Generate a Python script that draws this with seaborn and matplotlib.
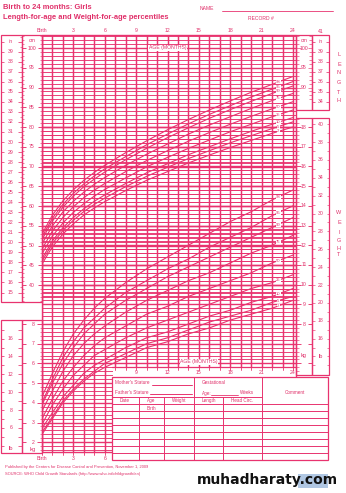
import numpy as np
import pandas as pd
import matplotlib
matplotlib.use('Agg')
import matplotlib.pyplot as plt
import seaborn as sns
from matplotlib.transforms import blended_transform_factory as btf
from matplotlib.patches import Rectangle

sns.set_theme(style='white')
plt.rcParams['font.family'] = ['Liberation Sans', 'DejaVu Sans']

PINK = '#e8336f'
TXT = '#e0306a'

# ---------------- data ----------------
months = [0, 1, 2, 3, 4, 5, 6, 8, 10, 12, 14, 16, 18, 20, 22, 24]
pct_labels = ['2', '5', '10', '25', '50', '75', '90', '95', '98']

length_p2 = [45.3, 49.7, 52.9, 55.5, 57.7, 59.5, 61.1, 63.9, 66.5, 68.7, 70.9, 72.9, 74.8, 76.6, 78.4, 80.0]
length_p5 = [46.0, 50.5, 53.8, 56.4, 58.6, 60.4, 62.0, 64.9, 67.5, 69.8, 72.0, 74.0, 76.0, 77.8, 79.6, 81.3]
length_p10 = [46.7, 51.2, 54.5, 57.1, 59.3, 61.2, 62.8, 65.7, 68.4, 70.7, 73.0, 75.0, 77.0, 78.9, 80.7, 82.4]
length_p25 = [47.9, 52.4, 55.7, 58.4, 60.6, 62.5, 64.2, 67.1, 69.9, 72.3, 74.6, 76.7, 78.8, 80.7, 82.6, 84.3]
length_p50 = [49.1, 53.7, 57.1, 59.8, 62.1, 64.0, 65.7, 68.7, 71.5, 74.0, 76.4, 78.6, 80.7, 82.7, 84.6, 86.4]
length_p75 = [50.4, 55.0, 58.5, 61.2, 63.5, 65.5, 67.2, 70.3, 73.1, 75.7, 78.2, 80.5, 82.6, 84.7, 86.7, 88.5]
length_p90 = [51.5, 56.2, 59.7, 62.5, 64.9, 66.8, 68.6, 71.7, 74.6, 77.3, 79.8, 82.2, 84.4, 86.5, 88.5, 90.4]
length_p95 = [52.2, 56.9, 60.4, 63.2, 65.6, 67.6, 69.4, 72.5, 75.5, 78.2, 80.8, 83.2, 85.4, 87.6, 89.6, 91.5]
length_p98 = [52.9, 57.7, 61.3, 64.1, 66.5, 68.5, 70.3, 73.5, 76.5, 79.3, 81.9, 84.3, 86.6, 88.8, 90.8, 92.8]

weight_p2 = [2.4, 3.2, 4.0, 4.6, 5.1, 5.5, 5.8, 6.3, 6.8, 7.1, 7.5, 7.8, 8.2, 8.5, 8.8, 9.2]
weight_p5 = [2.5, 3.3, 4.1, 4.7, 5.2, 5.6, 6.0, 6.5, 7.0, 7.3, 7.7, 8.1, 8.4, 8.7, 9.1, 9.4]
weight_p10 = [2.7, 3.5, 4.3, 4.9, 5.5, 5.9, 6.2, 6.8, 7.3, 7.6, 8.0, 8.4, 8.7, 9.1, 9.4, 9.8]
weight_p25 = [2.9, 3.9, 4.7, 5.4, 5.9, 6.4, 6.7, 7.3, 7.8, 8.2, 8.6, 9.0, 9.4, 9.8, 10.1, 10.5]
weight_p50 = [3.2, 4.2, 5.1, 5.8, 6.4, 6.9, 7.3, 7.9, 8.5, 8.9, 9.4, 9.8, 10.2, 10.6, 11.1, 11.5]
weight_p75 = [3.6, 4.6, 5.6, 6.4, 7.0, 7.5, 7.9, 8.6, 9.2, 9.7, 10.2, 10.6, 11.1, 11.6, 12.0, 12.5]
weight_p90 = [3.9, 5.0, 6.0, 6.8, 7.5, 8.0, 8.5, 9.2, 9.8, 10.4, 10.9, 11.4, 11.9, 12.4, 12.9, 13.4]
weight_p95 = [4.0, 5.2, 6.3, 7.1, 7.8, 8.3, 8.8, 9.6, 10.2, 10.8, 11.3, 11.9, 12.4, 12.9, 13.5, 14.0]
weight_p98 = [4.3, 5.5, 6.6, 7.5, 8.2, 8.8, 9.3, 10.1, 10.8, 11.4, 12.0, 12.6, 13.2, 13.7, 14.3, 14.8]

length_series = [length_p2, length_p5, length_p10, length_p25, length_p50,
                 length_p75, length_p90, length_p95, length_p98]
weight_series = [weight_p2, weight_p5, weight_p10, weight_p25, weight_p50,
                 weight_p75, weight_p90, weight_p95, weight_p98]

top_month_labels = ['Birth', '3', '6', '9', '12', '15', '18', '21', '24']
top_month_ticks = [0, 3, 6, 9, 12, 15, 18, 21, 24]

len_df = pd.DataFrame([(m, v, p) for p, s in zip(pct_labels, length_series)
                       for m, v in zip(months, s)], columns=['month', 'cm', 'pct'])
wt_df = pd.DataFrame([(m, v, p) for p, s in zip(pct_labels, weight_series)
                      for m, v in zip(months, s)], columns=['month', 'kg', 'pct'])

# ---------------- figure geometry ----------------
W, H = 346, 493
fig = plt.figure(figsize=(W / 100, H / 100), dpi=100)
fig.patch.set_facecolor('white')

GX0, GX1, GY0, GY1 = 42, 296, 35, 452
PX_MONTH = 10.46


def cm_at(y):
    return 100 - (y - 48) / 3.95


def kg_at(y):
    return 8 - (y - 324) / 19.7


XMAX = (GX1 - GX0) / PX_MONTH
ax = fig.add_axes([GX0 / W, 1 - GY1 / H, (GX1 - GX0) / W, (GY1 - GY0) / H])
ax.set_xlim(0, XMAX)
ax.set_ylim(cm_at(GY1), cm_at(GY0))
ax2 = ax.twinx()
ax2.set_ylim(kg_at(GY1), kg_at(GY0))
for a in (ax, ax2):
    a.axis('off')
    a.set_autoscale_on(False)

# grid
cm_lines = np.arange(37, 104)
ax.hlines([c for c in cm_lines if c % 5], 0, XMAX, color=PINK, lw=0.65)
ax.hlines([c for c in cm_lines if c % 5 == 0], 0, XMAX, color=PINK, lw=1.0)
kg_lines = np.round(np.arange(1.6, 18.01, 0.2), 1)
ax2.hlines([k for k in kg_lines if abs(k - round(k)) > 0.01], 0, XMAX, color=PINK, lw=0.65)
ax2.hlines([k for k in kg_lines if abs(k - round(k)) < 0.01], 0, XMAX, color=PINK, lw=1.0)
for m in range(0, 25):
    ax.axvline(m, color=PINK, lw=1.05)

pal = {p: PINK for p in pct_labels}
sns.lineplot(data=len_df, x='month', y='cm', hue='pct', palette=pal, ax=ax,
             legend=False, lw=0.8, estimator=None)
sns.lineplot(data=wt_df, x='month', y='kg', hue='pct', palette=pal, ax=ax2,
             legend=False, lw=0.8, estimator=None)
ax.axis('off'); ax2.axis('off')

# ---------------- overlay in pixel space ----------------
ov = fig.add_axes([0, 0, 1, 1])
ov.set_xlim(0, W)
ov.set_ylim(H, 0)
ov.axis('off')
ov.set_autoscale_on(False)
ov.set_zorder(10)
ov.patch.set_visible(False)

T_cm = btf(ov.transData, ax.transData)
T_kg = btf(ov.transData, ax2.transData)
T_mo = btf(ax.transData, ov.transData)

FS = 3.7


def seg(x0, x1, y, T, lw=0.55):
    ov.plot([x0, x1], [y, y], transform=T, color=PINK, lw=lw, solid_capstyle='butt')


def txt(x, y, s, T=None, fs=FS, ha='center', va='center', **kw):
    ov.text(x, y, s, transform=T if T is not None else ov.transData, fontsize=fs,
            color=TXT, ha=ha, va=va, **kw)


def rect(x, y, w, h, lw=0.9, fc='none', z=2):
    ov.add_patch(Rectangle((x, y), w, h, fc=fc, ec=PINK, lw=lw, zorder=z))


# white area under the table
ov.add_patch(Rectangle((112.5, 367), GX1 - 112.5, 100, fc='white', ec='none', zorder=1))

# main frame
rect(GX0, GY0, GX1 - GX0, GY1 - GY0, lw=1.0)
ov.plot([112, GX1], [367, 367], color=PINK, lw=0.9, zorder=2)

# left length columns
rect(0.5, 35, 21.5, 267)
rect(22, 35, 20, 267)
for i in range(15, 41):
    seg(0.5, 3.5, i * 2.54, T_cm)
    seg(18, 22, i * 2.54, T_cm)
    seg(19.5, 22, (i + 0.5) * 2.54, T_cm, lw=0.45)
    if i < 40:
        txt(11, i * 2.54, str(i), T_cm)
txt(11, 40 * 2.54, 'in', T_cm)
for c in range(36, 104):
    if c % 5 == 0:
        seg(22, 25.5, c, T_cm, lw=0.65)
        seg(38, 42, c, T_cm, lw=0.65)
    else:
        seg(22, 24, c, T_cm, lw=0.45)
        seg(39.5, 42, c, T_cm, lw=0.45)
for c in range(40, 101, 5):
    txt(32, c, str(c), T_cm)
txt(32, 102, 'cm', T_cm)

# left weight columns
rect(0.5, 320, 21.5, 133)
rect(22, 320, 20, 133)
for lb in range(4, 18):
    seg(0.5, 3.5, lb * 0.4536, T_kg)
    seg(18, 22, lb * 0.4536, T_kg)
for lb in range(6, 17, 2):
    txt(11, lb * 0.4536, str(lb), T_kg)
for k in kg_lines:
    if k > 8.2:
        continue
    if abs(k - round(k)) < 0.01:
        seg(22, 26, k, T_kg, lw=0.65)
        seg(37, 42, k, T_kg, lw=0.65)
    else:
        seg(39.5, 42, k, T_kg, lw=0.45)
for k in range(2, 9):
    txt(33, k, str(k), T_kg)
txt(11, 449, 'lb', fs=4.2)
txt(33, 449, 'kg', fs=4.2)

# right length columns
rect(296, 35, 16, 75)
rect(312, 35, 17, 75)
for c in range(87, 104):
    seg(296, 299 if c % 5 else 300.5, c, T_cm, lw=0.45)
    seg(309 if c % 5 else 307.5, 312, c, T_cm, lw=0.45)
for c in (90, 95, 100):
    txt(304, c, str(c), T_cm)
txt(304, 102, 'cm', T_cm)
for i in range(34, 41):
    seg(312, 315, i * 2.54, T_cm)
    seg(326, 329, i * 2.54, T_cm)
for i in range(34, 40):
    txt(321, i * 2.54, str(i), T_cm)
txt(321, 40 * 2.54, 'in', T_cm)
txt(321, 41 * 2.54, '41', T_cm)

# right weight columns
rect(296, 118, 16, 257)
rect(312, 118, 17, 257)
for k in np.round(np.arange(5.6, 18.41, 0.2), 1):
    if abs(k - round(k)) < 0.01:
        seg(296, 300.5, k, T_kg, lw=0.65)
        seg(307.5, 312, k, T_kg, lw=0.65)
    else:
        seg(296, 298.5, k, T_kg, lw=0.45)
for k in range(8, 19):
    txt(304, k, str(k), T_kg)
for lb in range(13, 41):
    seg(312, 314.5, lb * 0.4536, T_kg, lw=0.45)
    seg(326.5, 329, lb * 0.4536, T_kg, lw=0.45)
for lb in range(16, 41, 2):
    txt(321, lb * 0.4536, str(lb), T_kg)
txt(304, 356, 'kg', fs=4.0, bbox=dict(fc='white', ec='none', pad=0.2))
txt(321, 356, 'lb', fs=4.0, bbox=dict(fc='white', ec='none', pad=0.2))

# side words
for ch, y in zip('LENGTH', [55, 64, 73, 83, 92, 100]):
    txt(339, y, ch, fs=4.0)
for ch, y in zip('WEIGHT', [213, 223, 232, 241, 248, 255]):
    txt(339, y, ch, fs=4.0)

# month labels
for m, lab in zip(top_month_ticks, top_month_labels):
    txt(m, 31, lab, T_mo, fs=FS)
for m in range(0, 25):
    ov.plot([m, m], [35, 38], transform=T_mo, color=PINK, lw=0.6)
for m, lab in zip(top_month_ticks[3:], top_month_labels[3:]):
    txt(m, 372, lab, T_mo, fs=FS)
for m in range(7, 25):
    ov.plot([m, m], [367, 370], transform=T_mo, color=PINK, lw=0.6)
for m, lab in zip(top_month_ticks[:3], top_month_labels[:3]):
    txt(m, 458, lab, T_mo, fs=FS)
for m in range(0, 7):
    ov.plot([m, m], [452, 455], transform=T_mo, color=PINK, lw=0.6)
txt(12, 48, 'AGE (MONTHS)', T_mo, fs=FS, bbox=dict(fc='white', ec='none', pad=0.3))
txt(15, 362, 'AGE (MONTHS)', T_mo, fs=FS, bbox=dict(fc='white', ec='none', pad=0.3))

# percentile labels
for p, s in zip(pct_labels, length_series):
    txt(22.6, float(np.interp(22.6, months, s)), p, ax.transData, fs=3.0,
        bbox=dict(fc='white', ec='none', pad=0.15))
for p, s in zip(pct_labels, weight_series):
    txt(22.6, float(np.interp(22.6, months, s)), p, ax2.transData, fs=3.0,
        bbox=dict(fc='white', ec='none', pad=0.15))

# titles
txt(3, 7.5, 'Birth to 24 months: Girls', fs=5.4, ha='left', fontweight='bold')
txt(3, 17.5, 'Length-for-age and Weight-for-age percentiles', fs=5.4, ha='left',
    fontweight='bold')
txt(200, 8, 'NAME', fs=3.6, ha='left')
ov.plot([222, 333], [10.5, 10.5], color=PINK, lw=0.6)
txt(248, 18, 'RECORD #', fs=3.6, ha='left')

# table
rect(112, 377, 216, 83, z=3, fc='white')
for x, y0 in [(194, 377), (262, 377), (139, 397), (164, 397), (223, 397)]:
    ov.plot([x, x], [y0, 460], color=PINK, lw=0.7, zorder=4)
ov.plot([112, 262], [397, 397], color=PINK, lw=0.7, zorder=4)
for y in np.arange(404, 458, 7):
    ov.plot([112, 328], [y, y], color=PINK, lw=0.7, zorder=4)
TF = 3.3
txt(115, 383, "Mother's Stature", fs=TF, ha='left')
ov.plot([152, 192], [384.5, 384.5], color=PINK, lw=0.7, zorder=4)
txt(115, 392, "Father's Stature", fs=TF, ha='left')
ov.plot([150, 192], [393.5, 393.5], color=PINK, lw=0.7, zorder=4)
txt(202, 383, 'Gestational', fs=TF, ha='left')
txt(202, 393, 'Age:', fs=TF, ha='left')
ov.plot([211, 238], [394.5, 394.5], color=PINK, lw=0.6, zorder=4)
txt(240, 393, 'Weeks', fs=TF, ha='left')
txt(295, 393, 'Comment', fs=TF)
for x, s in [(125, 'Date'), (151, 'Age'), (179, 'Weight'), (208.5, 'Length'), (242, 'Head Circ.')]:
    txt(x, 400.8, s, fs=TF)
txt(151, 408.5, 'Birth', fs=TF)

# footer
txt(5, 467, 'Published by the Centers for Disease Control and Prevention, November 1, 2009',
    fs=2.9, ha='left')
txt(5, 474, 'SOURCE: WHO Child Growth Standards (http://www.who.int/childgrowth/en)',
    fs=2.9, ha='left')

# watermark
ov.add_patch(Rectangle((298, 474), 30, 14, fc='#9db9dc', ec='none', alpha=0.8, zorder=5))
ov.text(267, 480, 'muhadharaty.com', fontsize=10.0, fontweight='bold', color='#111111',
        ha='center', va='center', family='DejaVu Sans', zorder=6)

fig.savefig('out.png', dpi=100, facecolor='white')
